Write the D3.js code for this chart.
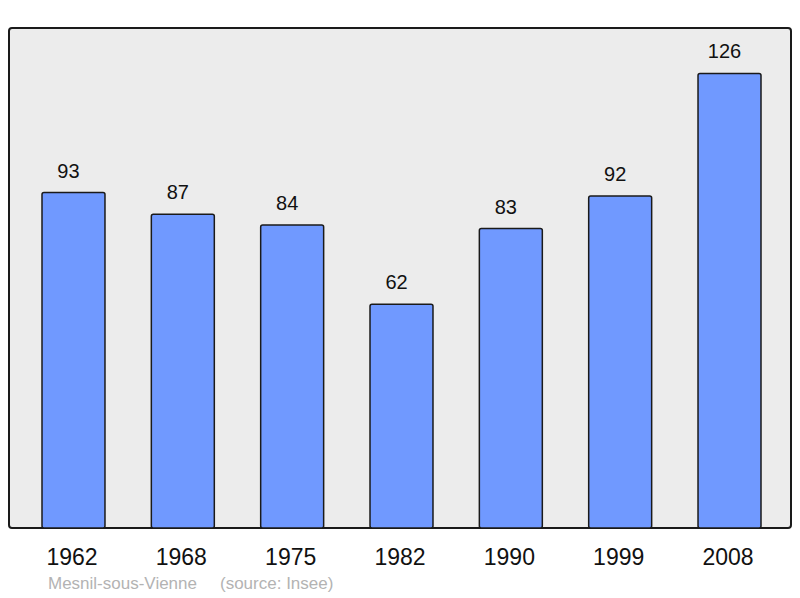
<!DOCTYPE html>
<html><head><meta charset="utf-8">
<script src="https://cdn.jsdelivr.net/npm/d3@7"></script>
<style>body{margin:0;background:#fff}svg{display:block}</style>
</head><body>
<svg id="c" width="800" height="598"></svg>
<script>
const years = ["1962","1968","1975","1982","1990","1999","2008"];
const population = [93,87,84,62,83,92,126];
const footerName = "Mesnil-sous-Vienne";
const footerSource = "(source: Insee)";

const svg = d3.select("#c");
const pLeft = 9, pRight = 791, pTop = 28, pBottom = 528;
svg.append("rect").attr("x",pLeft).attr("y",pTop).attr("width",pRight-pLeft).attr("height",pBottom-pTop)
  .attr("rx",3).attr("fill","#ececec").attr("stroke","#1a1a1a").attr("stroke-width",2);

const x = d3.scaleBand().domain(years).range([42, 761]).paddingInner(0.424).paddingOuter(0);
const y = d3.scaleLinear().domain([0, 126*1.1]).range([pBottom, pTop]);

const data = years.map((yr,i)=>({yr, v:population[i]}));
svg.selectAll("rect.bar").data(data).enter().append("rect").attr("class","bar")
  .attr("x",d=>x(d.yr)).attr("y",d=>y(d.v)).attr("width",x.bandwidth()).attr("height",d=>pBottom-y(d.v))
  .attr("rx",2).attr("fill","#7099ff").attr("stroke","#1a1a1a").attr("stroke-width",1.5);

svg.selectAll("text.val").data(data).enter().append("text").attr("class","val")
  .attr("x",d=>x(d.yr)+x.bandwidth()/2-5).attr("y",d=>y(d.v)-15)
  .attr("text-anchor","middle").attr("font-family","Liberation Sans, Arial, sans-serif")
  .attr("font-size",20).attr("fill","#111").text(d=>d.v);

const ax = svg.append("g").attr("transform",`translate(0,${pBottom})`)
  .call(d3.axisBottom(x).tickSize(0).tickPadding(0));
ax.select(".domain").remove();
ax.selectAll("text").attr("font-family","Liberation Sans, Arial, sans-serif").attr("font-size",23)
  .attr("fill","#111").attr("y",37).attr("dy",0).attr("x",-1.5);

const ft = svg.append("text").attr("x",48).attr("y",589).attr("font-family","Liberation Sans, Arial, sans-serif")
  .attr("font-size",17).attr("fill","#b3b3b3");
ft.append("tspan").text(footerName);
ft.append("tspan").attr("x",220).text(footerSource);
</script>
</body></html>
